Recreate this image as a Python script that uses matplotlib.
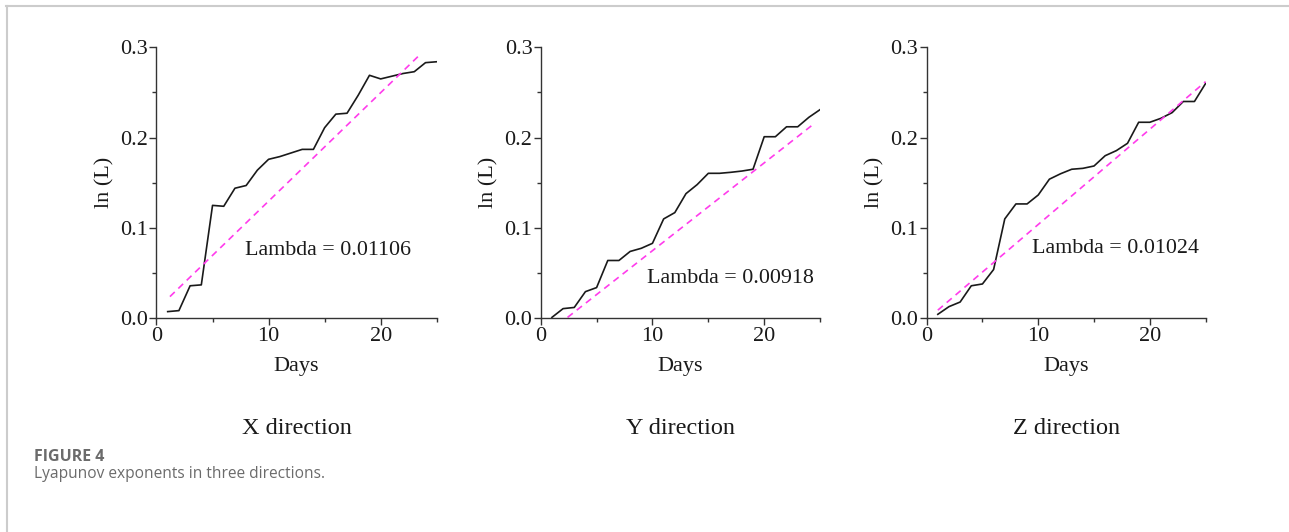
import matplotlib
matplotlib.use("Agg")
import matplotlib.pyplot as plt
from matplotlib.lines import Line2D
from matplotlib.ticker import MultipleLocator

days = list(range(1, 26))

x_dir = [0.0074, 0.0085, 0.036, 0.037, 0.125, 0.124, 0.144, 0.147, 0.164, 0.176,
         0.179, 0.183, 0.187, 0.187, 0.211, 0.226, 0.227, 0.247, 0.269, 0.265,
         0.268, 0.271, 0.273, 0.283, 0.284]
y_dir = [0.001, 0.0107, 0.012, 0.0295, 0.034, 0.064, 0.064, 0.074, 0.0775, 0.083,
         0.110, 0.117, 0.138, 0.148, 0.1605, 0.1605, 0.1616, 0.163, 0.165, 0.201,
         0.201, 0.212, 0.212, 0.2225, 0.231]
z_dir = [0.0044, 0.0129, 0.018, 0.036, 0.038, 0.054, 0.110, 0.1266, 0.1266, 0.1365,
         0.154, 0.160, 0.165, 0.166, 0.1686, 0.180, 0.1856, 0.1937, 0.217, 0.217,
         0.2214, 0.2277, 0.240, 0.240, 0.260]

fit_x = [[1.2, 23.6], [2.4, 24.4], [1.0, 25.0]]
fit_y = [[0.024, 0.293], [0.001, 0.2148], [0.009, 0.262]]

lambdas = ["0.01106", "0.00918", "0.01024"]
titles = ["X direction", "Y direction", "Z direction"]
text_pos = [(7.9, 0.0756), (9.5, 0.0443), (9.4, 0.0775)]

series = [x_dir, y_dir, z_dir]

fig = plt.figure(figsize=(12.89, 5.32), dpi=100)
serif = "Liberation Serif"

lefts = [0.1214, 0.4195, 0.7189]
widths = [0.2174, 0.2167, 0.2164]
bottom = 0.4017
height = 0.5094

for i in range(3):
    ax = fig.add_axes([lefts[i], bottom, widths[i], height])
    ax.plot(days, series[i], color="#1a1a1a", lw=1.2)
    ax.plot(fit_x[i], fit_y[i], color="#ff3cec", lw=1.2, ls=(0, (4, 3)))
    ax.set_xlim(0, 25)
    ax.set_ylim(0, 0.3)
    ax.xaxis.set_major_locator(MultipleLocator(10))
    ax.xaxis.set_minor_locator(MultipleLocator(5))
    ax.yaxis.set_major_locator(MultipleLocator(0.1))
    ax.yaxis.set_minor_locator(MultipleLocator(0.05))
    ax.yaxis.set_major_formatter(matplotlib.ticker.FormatStrFormatter("%.1f"))
    for s in ("top", "right"):
        ax.spines[s].set_visible(False)
    for s in ("left", "bottom"):
        ax.spines[s].set_color("#333333")
        ax.spines[s].set_linewidth(1.0)
    ax.tick_params(which="both", direction="out", color="#333333", width=1.0)
    ax.tick_params(which="major", length=5, labelsize=16, pad=1)
    ax.tick_params(which="minor", length=3)
    for lab in ax.get_xticklabels() + ax.get_yticklabels():
        lab.set_fontfamily(serif)
        lab.set_color("#1a1a1a")
    ax.set_xlabel("Days", fontsize=16, fontfamily=serif, color="#1a1a1a", labelpad=8)
    ax.set_ylabel("ln (L)", fontsize=16, fontfamily=serif, color="#1a1a1a", labelpad=4)
    ax.text(text_pos[i][0], text_pos[i][1], "Lambda = " + lambdas[i],
            fontsize=15.8, fontfamily=serif, color="#1a1a1a", va="center", ha="left")
    cx = lefts[i] + widths[i] / 2
    fig.text(cx, 1 - 428 / 532, titles[i], fontsize=17.5, fontfamily=serif,
             color="#1a1a1a", ha="center", va="center")

# page frame lines (top and left)
fig.add_artist(Line2D([6 / 1289, 1.0], [1 - 5.5 / 532, 1 - 5.5 / 532],
                      color="#cccccc", lw=1.5, transform=fig.transFigure))
fig.add_artist(Line2D([6.5 / 1289, 6.5 / 1289], [0, 1 - 5.5 / 532],
                      color="#cccccc", lw=1.5, transform=fig.transFigure))

fig.text(34 / 1289, 1 - 457 / 532, "FIGURE 4", fontsize=11.5, fontfamily="Open Sans",
         fontweight="bold", color="#6b6b6b", ha="left", va="center")
fig.text(34 / 1289, 1 - 474 / 532, "Lyapunov exponents in three directions.",
         fontsize=11.2, fontfamily="Open Sans", color="#6b6b6b", ha="left", va="center")

fig.savefig("out.png", dpi=100, facecolor="white")
